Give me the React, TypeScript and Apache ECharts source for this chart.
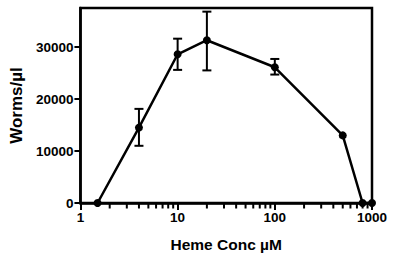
import React, { useEffect, useRef } from "react";
import * as echarts from "echarts";

const concs = [1.5, 4, 10, 20, 100, 500, 800, 1000];
const worms = [0, 14500, 28600, 31300, 26100, 13000, 0, 0];
const errConcs = [4, 10, 20, 100];
const errLow = [11000, 25600, 25500, 24700];
const errHigh = [18100, 31600, 36800, 27700];
const minorTickValues = [2, 3, 4, 5, 6, 7, 8, 9, 20, 30, 40, 50, 60, 70, 80, 90, 200, 300, 400, 500, 600, 700, 800, 900];
const yTicks = [0, 10000, 20000, 30000];
const X_MIN = 1;
const X_MAX = 1000;

const FONT = "Liberation Sans";

export default function App() {
  const ref = useRef<HTMLDivElement>(null);
  useEffect(() => {
    if (!ref.current) return;
    const chart = echarts.init(ref.current, undefined, { renderer: "svg" });
    chart.setOption({
      animation: false,
      grid: {
        left: 79,
        right: 28,
        top: 8,
        bottom: 56,
        show: true,
        borderColor: "#000",
        borderWidth: 2.5,
        backgroundColor: "transparent",
      },
      xAxis: [
        {
          type: "log",
          logBase: 10,
          min: X_MIN,
          max: X_MAX,
          name: "Heme Conc µM",
          nameLocation: "middle",
          nameGap: 33,
          nameTextStyle: { fontFamily: FONT, fontWeight: "bold", fontSize: 15.5, color: "#000" },
          axisLine: { show: true, lineStyle: { color: "#000", width: 2.5 } },
          axisTick: { show: true, inside: false, length: 7, lineStyle: { color: "#000", width: 2 } },
          axisLabel: {
            fontFamily: FONT,
            fontWeight: "bold",
            fontSize: 13.5,
            color: "#000",
            margin: 7,
            formatter: (v: number) => String(Math.round(v)),
          },
          splitLine: { show: false },
          minorTick: { show: false },
        },
      ],
      yAxis: {
        type: "value",
        min: 0,
        max: 37500,
        interval: 10000,
        name: "Worms/µl",
        nameLocation: "middle",
        nameGap: 54,
        nameTextStyle: { fontFamily: FONT, fontWeight: "bold", fontSize: 17, color: "#000" },
        axisLine: { show: true, lineStyle: { color: "#000", width: 2.5 } },
        axisTick: { show: true, inside: false, length: 6, lineStyle: { color: "#000", width: 2 }, customValues: yTicks },
        axisLabel: {
          fontFamily: FONT,
          fontWeight: "bold",
          fontSize: 13.5,
          color: "#000",
          margin: 7,
          customValues: yTicks,
          formatter: (v: number) => String(v),
        },
        splitLine: { show: false },
      },
      series: [
        {
          type: "line",
          data: concs.map((c, i) => [c, worms[i]]),
          symbol: "circle",
          symbolSize: 8,
          lineStyle: { color: "#000", width: 2.5 },
          itemStyle: { color: "#000" },
          clip: false,
          z: 3,
        },
        {
          type: "custom",
          clip: false,
          silent: true,
          data: errConcs.map((c, i) => [c, errLow[i], errHigh[i]]),
          encode: { x: 0, y: [1, 2] },
          renderItem: (params: any, api: any) => {
            const x = api.value(0);
            const lo = api.coord([x, api.value(1)]);
            const hi = api.coord([x, api.value(2)]);
            const w = 4.5;
            const st = { stroke: "#000", lineWidth: 2 };
            return {
              type: "group",
              children: [
                { type: "line", shape: { x1: lo[0], y1: lo[1], x2: hi[0], y2: hi[1] }, style: st },
                { type: "line", shape: { x1: hi[0] - w, y1: hi[1], x2: hi[0] + w, y2: hi[1] }, style: st },
                { type: "line", shape: { x1: lo[0] - w, y1: lo[1], x2: lo[0] + w, y2: lo[1] }, style: st },
              ],
            };
          },
          z: 2,
        },
      ],
    });
    // minor decade ticks, placed through the x axis' own log scale
    const y0 = chart.convertToPixel({ yAxisIndex: 0 }, 0) as number;
    chart.setOption({
      graphic: minorTickValues.map((v) => {
        const px = chart.convertToPixel({ xAxisIndex: 0 }, v) as number;
        return {
          type: "line",
          silent: true,
          z: 10,
          shape: { x1: px, y1: y0 + 1, x2: px, y2: y0 + 5.5 },
          style: { stroke: "#000", lineWidth: 2 },
        };
      }),
    });
    return () => chart.dispose();
  }, []);
  return <div ref={ref} style={{ width: 400, height: 259, position: "absolute", left: 0, top: 0 }} />;
}
